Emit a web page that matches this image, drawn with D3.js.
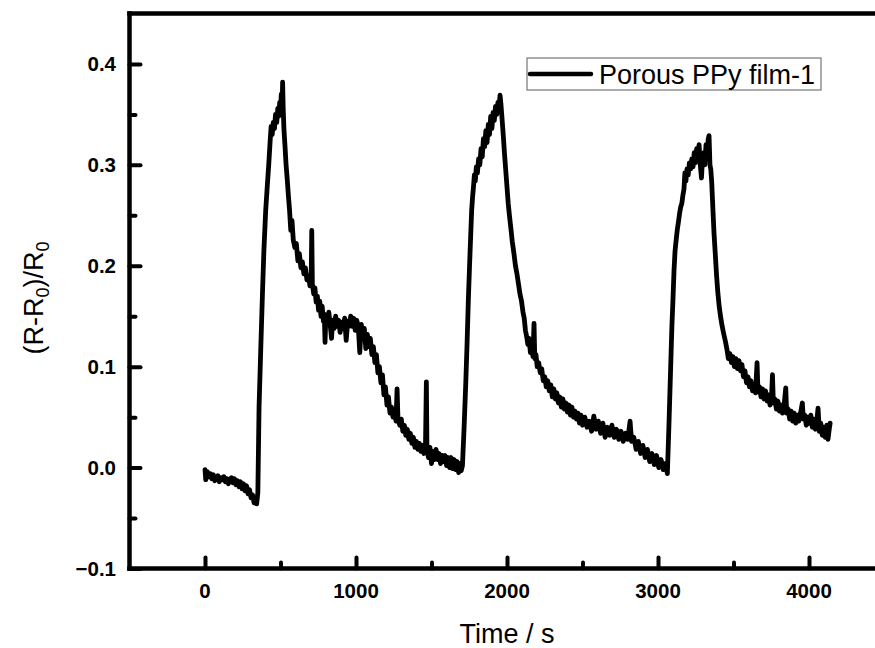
<!DOCTYPE html>
<html>
<head>
<meta charset="utf-8">
<script src="https://cdn.jsdelivr.net/npm/d3@7"></script>
<style>
  html, body { margin: 0; padding: 0; background: #fff; }
  svg { display: block; }
</style>
</head>
<body>
<svg id="chart" width="875" height="648"></svg>
<script>
// ---------------- DATA ----------------
const seriesName = "Porous PPy film-1";
const xTitle = "Time / s";
const xMajorTicks = [0, 1000, 2000, 3000, 4000];
const xMinorTicks = [500, 1500, 2500, 3500];
const yMajorTicks = [-0.1, 0.0, 0.1, 0.2, 0.3, 0.4];
const yMinorTicks = [-0.05, 0.05, 0.15, 0.25, 0.35];
const xDomain = [-500, 4500];
const yDomain = [-0.1, 0.45];

// time (s)
const timeS = [
  0,5,15,25,35,45,55,65,75,85,95,105,115,125,135,145,155,165,175,185,195,205,215,225,235,245,255,265,275,285,295,305,315,325,335,342,350,
  358,369,380,390,402,412,422,432,438,445,452,460,467,475,482,488,495,500,505,510,514,518,523,530,537,545,552,
  560,568,576,585,595,605,615,625,635,645,655,665,675,685,695,703,707,711,720,728,736,744,752,760,768,776,784,790,795,800,810,820,830,838,845,855,865,875,885,895,905,915,925,935,945,955,965,975,985,995,1005,1015,1025,1035,1045,1055,1065,1075,1085,1095,1105,1115,1125,1135,1145,1155,1165,1175,1185,1195,1205,1215,1225,1235,1245,1255,1265,1272,1278,1290,1300,1310,1320,1330,1340,1350,1360,1370,1380,1390,1400,1410,1420,1430,1440,1450,1460,1466,1470,1480,1490,1500,1510,1520,1530,1540,1550,1560,1570,1580,1590,1600,1610,1620,1630,1640,1650,1660,1670,1680,1690,1697,
  1705,1716,1727,1736,1744,1752,1760,1766,1772,1778,1784,1790,1797,1804,1812,1820,1828,1836,1844,1852,1860,1868,1876,1884,1892,1900,1908,1916,1924,1932,1940,1946,1954,1960,1966,1975,1983,1991,2000,2008,2016,2025,2035,2046,2056,2066,2076,2086,2096,2106,2114,2122,2130,2138,2146,2155,2164,2172,2179,2184,2192,2200,2210,2220,2230,2240,2250,2260,2270,2280,2290,2300,2310,2320,2330,2340,2350,2360,2370,2380,2390,2400,2410,2420,2430,2440,2450,2460,2470,2480,2490,2500,2515,2530,2545,2560,2575,2590,2605,2620,2635,2650,2665,2680,2695,2710,2725,2740,2755,2770,2785,2800,2815,2825,2840,2855,2870,2885,2900,2915,2930,2945,2960,2975,2990,3005,3020,3035,3050,3062,
  3072,3084,3092,3099,3106,3113,3120,3128,3136,3143,3150,3158,3165,3172,3178,3185,3192,3200,3208,3216,3224,3232,3240,3248,3256,3264,3272,3280,3288,3295,3303,3310,3318,3326,3332,3338,3344,3350,3356,3364,3371,3380,3388,3396,3405,3415,3425,3436,3448,3458,3466,3476,3486,3496,3506,3516,3526,3536,3546,3556,3566,3576,3586,3596,3606,3616,3626,3636,3646,3656,3662,3672,3682,3692,3702,3712,3722,3732,3742,3752,3758,3764,3774,3784,3794,3804,3814,3824,3834,3846,3852,3862,3872,3882,3892,3902,3912,3922,3932,3944,3956,3962,3972,3982,3992,4002,4012,4022,4032,4042,4052,4060,4068,4078,4088,4098,4108,4118,4126,4134,4140
];
// (R-R0)/R0
const responseRatio = [
  -0.002,-0.012,-0.004,-0.009,-0.006,-0.011,-0.007,-0.013,-0.010,-0.008,-0.014,-0.010,-0.012,-0.009,-0.014,-0.011,-0.016,-0.012,-0.010,-0.015,-0.011,-0.017,-0.013,-0.019,-0.014,-0.021,-0.016,-0.023,-0.018,-0.026,-0.022,-0.030,-0.027,-0.035,-0.030,-0.036,-0.025,
  0.060,0.116,0.170,0.215,0.255,0.278,0.300,0.325,0.338,0.330,0.342,0.336,0.350,0.342,0.356,0.348,0.362,0.352,0.370,0.350,0.382,0.355,0.335,0.318,0.300,0.285,0.270,
  0.255,0.235,0.245,0.225,0.218,0.222,0.205,0.212,0.198,0.204,0.192,0.198,0.186,0.190,0.180,0.186,0.235,0.182,0.172,0.178,0.164,0.170,0.156,0.165,0.150,0.160,0.145,0.152,0.124,0.148,0.142,0.154,0.140,0.128,0.146,0.138,0.150,0.140,0.146,0.134,0.144,0.138,0.148,0.126,0.145,0.140,0.150,0.140,0.148,0.136,0.146,0.140,0.114,0.142,0.130,0.138,0.118,0.132,0.120,0.128,0.112,0.120,0.104,0.112,0.094,0.100,0.084,0.092,0.072,0.080,0.062,0.070,0.054,0.060,0.050,0.058,0.046,0.078,0.048,0.042,0.048,0.036,0.042,0.032,0.038,0.028,0.034,0.024,0.030,0.020,0.026,0.018,0.024,0.016,0.022,0.014,0.020,0.085,0.018,0.010,0.020,0.004,0.016,0.008,0.018,0.008,0.014,0.004,0.012,0.006,0.012,0.002,0.010,0.000,0.010,-0.001,0.008,-0.002,0.006,-0.005,0.004,-0.003,
  0.002,0.040,0.084,0.125,0.166,0.200,0.232,0.255,0.268,0.278,0.290,0.284,0.298,0.292,0.306,0.300,0.316,0.308,0.326,0.318,0.334,0.322,0.340,0.330,0.348,0.336,0.352,0.344,0.358,0.350,0.362,0.356,0.369,0.360,0.348,0.330,0.312,0.296,0.278,0.262,0.250,0.238,0.224,0.212,0.200,0.192,0.182,0.172,0.165,0.154,0.148,0.136,0.130,0.122,0.128,0.114,0.120,0.110,0.143,0.108,0.112,0.100,0.104,0.094,0.098,0.086,0.090,0.080,0.086,0.076,0.082,0.070,0.078,0.068,0.074,0.064,0.070,0.060,0.068,0.058,0.064,0.055,0.062,0.052,0.060,0.050,0.056,0.048,0.054,0.044,0.052,0.042,0.050,0.040,0.046,0.036,0.051,0.038,0.046,0.034,0.044,0.030,0.040,0.032,0.042,0.030,0.038,0.028,0.036,0.026,0.034,0.028,0.046,0.026,0.030,0.018,0.026,0.014,0.022,0.010,0.018,0.006,0.014,0.003,0.012,0.000,0.008,-0.002,0.004,-0.006,
  0.040,0.100,0.140,0.166,0.195,0.215,0.225,0.236,0.244,0.252,0.258,0.262,0.270,0.276,0.292,0.284,0.296,0.290,0.302,0.296,0.306,0.298,0.312,0.302,0.316,0.306,0.320,0.300,0.287,0.308,0.312,0.300,0.320,0.306,0.325,0.329,0.300,0.295,0.282,0.255,0.232,0.210,0.190,0.174,0.160,0.149,0.140,0.132,0.124,0.116,0.108,0.113,0.104,0.110,0.100,0.108,0.098,0.106,0.096,0.102,0.090,0.096,0.084,0.090,0.080,0.086,0.076,0.082,0.074,0.104,0.075,0.080,0.070,0.078,0.068,0.076,0.066,0.072,0.062,0.070,0.092,0.064,0.068,0.058,0.066,0.056,0.062,0.054,0.060,0.079,0.054,0.058,0.048,0.056,0.046,0.054,0.044,0.052,0.046,0.054,0.064,0.048,0.052,0.042,0.050,0.044,0.052,0.040,0.048,0.038,0.046,0.059,0.036,0.044,0.032,0.040,0.030,0.042,0.028,0.038,0.044
];

// ---------------- CHART ----------------
const svg = d3.select("#chart");
const W = 875, H = 648;
const mLeft = 129.5, mRight = 884.5, mTop = 13.5, mBottom = 568.5;

const x = d3.scaleLinear().domain(xDomain).range([mLeft, mRight]);
const y = d3.scaleLinear().domain(yDomain).range([mBottom, mTop]);

svg.append("rect").attr("width", W).attr("height", H).attr("fill", "#fff");

const points = d3.zip(timeS, responseRatio);

// data line
svg.append("path")
  .datum(points)
  .attr("fill", "none")
  .attr("stroke", "#000")
  .attr("stroke-width", 4.8)
  .attr("stroke-linejoin", "round")
  .attr("stroke-linecap", "round")
  .attr("d", d3.line().x(d => x(d[0])).y(d => y(d[1])));

// Axes (inward ticks)
const fontFam = "'Liberation Sans', Arial, Helvetica, sans-serif";

const xAxisMajor = d3.axisTop(x).tickValues(xMajorTicks).tickSize(11).tickFormat("");
const xAxisMinor = d3.axisTop(x).tickValues(xMinorTicks).tickSize(6).tickFormat("");
const yAxisMajor = d3.axisRight(y).tickValues(yMajorTicks).tickSize(11).tickFormat("");
const yAxisMinor = d3.axisRight(y).tickValues(yMinorTicks).tickSize(6).tickFormat("");

function styleTicks(g) {
  g.select(".domain").remove();
  g.selectAll(".tick line")
    .attr("stroke", "#000")
    .attr("stroke-width", 4)
    .attr("stroke-linecap", "round");
}
svg.append("g").attr("transform", `translate(0,${mBottom})`).call(xAxisMajor).call(styleTicks);
svg.append("g").attr("transform", `translate(0,${mBottom})`).call(xAxisMinor).call(styleTicks);
svg.append("g").attr("transform", `translate(${mLeft},0)`).call(yAxisMajor).call(styleTicks);
svg.append("g").attr("transform", `translate(${mLeft},0)`).call(yAxisMinor).call(styleTicks);

// frame as filled bands (4.5 px thick)
const fw = 4.5;
const frame = svg.append("g").attr("fill", "#000");
frame.append("rect").attr("x", mLeft - fw / 2).attr("y", mBottom - fw / 2).attr("width", W - mLeft + fw).attr("height", fw);
frame.append("rect").attr("x", mLeft - fw / 2).attr("y", mTop - fw / 2).attr("width", W - mLeft + fw).attr("height", fw);
frame.append("rect").attr("x", mLeft - fw / 2).attr("y", mTop - fw / 2).attr("width", fw).attr("height", mBottom - mTop + fw);

// tick labels
svg.append("g").selectAll("text").data(xMajorTicks).join("text")
  .attr("x", d => x(d)).attr("y", 598)
  .attr("text-anchor", "middle")
  .attr("font-family", fontFam).attr("font-weight", "bold").attr("font-size", 20.5)
  .text(d => d3.format("d")(d));

svg.append("g").selectAll("text").data(yMajorTicks).join("text")
  .attr("x", 116).attr("y", d => y(d) + 7.3)
  .attr("text-anchor", "end")
  .attr("font-family", fontFam).attr("font-weight", "bold").attr("font-size", 20.5)
  .text(d => d3.format(".1f")(d));

// axis titles
svg.append("text")
  .attr("x", (mLeft + mRight) / 2).attr("y", 642.5)
  .attr("text-anchor", "middle")
  .attr("font-family", fontFam).attr("font-size", 27)
  .text(xTitle);

const yt = svg.append("text")
  .attr("transform", "translate(43,298) rotate(-90)")
  .attr("text-anchor", "middle")
  .attr("font-family", fontFam).attr("font-size", 27);
yt.append("tspan").text("(R-R");
yt.append("tspan").attr("font-size", 18).attr("dy", 6).text("0");
yt.append("tspan").attr("dy", -6).text(")/R");
yt.append("tspan").attr("font-size", 18).attr("dy", 6).text("0");

// legend
const lg = svg.append("g");
lg.append("rect").attr("x", 527).attr("y", 58).attr("width", 294).attr("height", 32)
  .attr("fill", "#fff").attr("stroke", "#808080").attr("stroke-width", 1.3);
lg.append("line").attr("x1", 530).attr("x2", 591).attr("y1", 74).attr("y2", 74)
  .attr("stroke", "#000").attr("stroke-width", 4.5).attr("stroke-linecap", "round");
lg.append("text").attr("x", 599).attr("y", 83.5)
  .attr("font-family", fontFam).attr("font-size", 27)
  .text(seriesName);
</script>
</body>
</html>
